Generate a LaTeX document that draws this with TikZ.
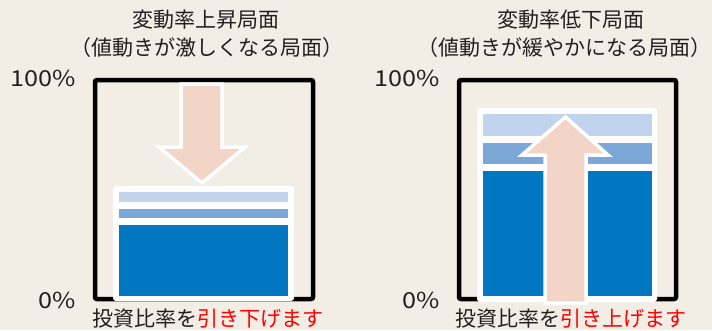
\documentclass[tikz,border=0pt]{standalone}
\usepackage{fontspec}
\newfontfamily\cjk{Noto Sans CJK JP}
\definecolor{bgc}{RGB}{242,237,229}
\definecolor{lightb}{RGB}{193,211,237}
\definecolor{midb}{RGB}{124,168,216}
\definecolor{darkb}{RGB}{0,119,192}
\definecolor{pinkc}{RGB}{243,213,200}
\definecolor{txtc}{RGB}{35,31,32}
\definecolor{redc}{RGB}{255,0,0}
\begin{document}
\begin{tikzpicture}[x=1pt,y=-1pt,
  lbl/.style={font=\cjk\fontsize{21}{23}\selectfont, text=txtc, inner sep=0pt},
  pct/.style={font=\cjk\fontsize{22}{24}\selectfont, text=txtc, inner sep=0pt, xscale=1.15, anchor=east},
  frame/.style={draw=black, line width=4.5pt, rounded corners=2pt},
  barbg/.style={fill=white, rounded corners=3pt},
  arrowshape/.style={fill=pinkc, draw=white, line width=3.5pt, line join=miter}]
\path[use as bounding box, fill=bgc] (0,0) rectangle (712,330);
% titles
\node[lbl] (t1) at (206,20) {変動率上昇局面};
\node[lbl] (s1) at (207,48) {（値動きが激しくなる局面）};
\node[lbl] (t2) at (571,20) {変動率低下局面};
\node[lbl] (s2) at (564,48) {（値動きが緩やかになる局面）};
% axis labels
\node[pct] (h1) at (76,78) {100\%};
\node[pct] (z1) at (76,300) {0\%};
\node[pct] (h2) at (440,78) {100\%};
\node[pct] (z2) at (440,300) {0\%};
% bottom captions
\node[lbl] (c1) at (208,319) {投資比率を\textcolor{redc}{引き下げます}};
\node[lbl] (c2) at (571,319) {投資比率を\textcolor{redc}{引き上げます}};
% left frame
\draw[frame] (95,80) rectangle (313,299);
% left arrow (down)
\draw[arrowshape] (181,84) -- (222,84) -- (222,147) -- (245,147) -- (202,183) -- (159,147) -- (181,147) -- cycle;
% left bar
\path[barbg] (113,186) rectangle (294,301);
\fill[lightb] (119,192) rectangle (288,202);
\fill[midb] (119,209) rectangle (288,218);
\fill[darkb] (119,225) rectangle (288,296);
% right frame
\draw[frame] (459,80) rectangle (676,299);
% right bar
\path[barbg] (477,108) rectangle (657,302);
\fill[lightb] (483,114) rectangle (652,136);
\fill[midb] (483,143) rectangle (652,164);
\fill[darkb] (483,171) rectangle (652,296);
% right arrow (up)
\draw[arrowshape] (545,303) -- (545,155) -- (522,155) -- (565.5,117) -- (608,155) -- (586,155) -- (586,303) -- cycle;
\end{tikzpicture}
\end{document}
